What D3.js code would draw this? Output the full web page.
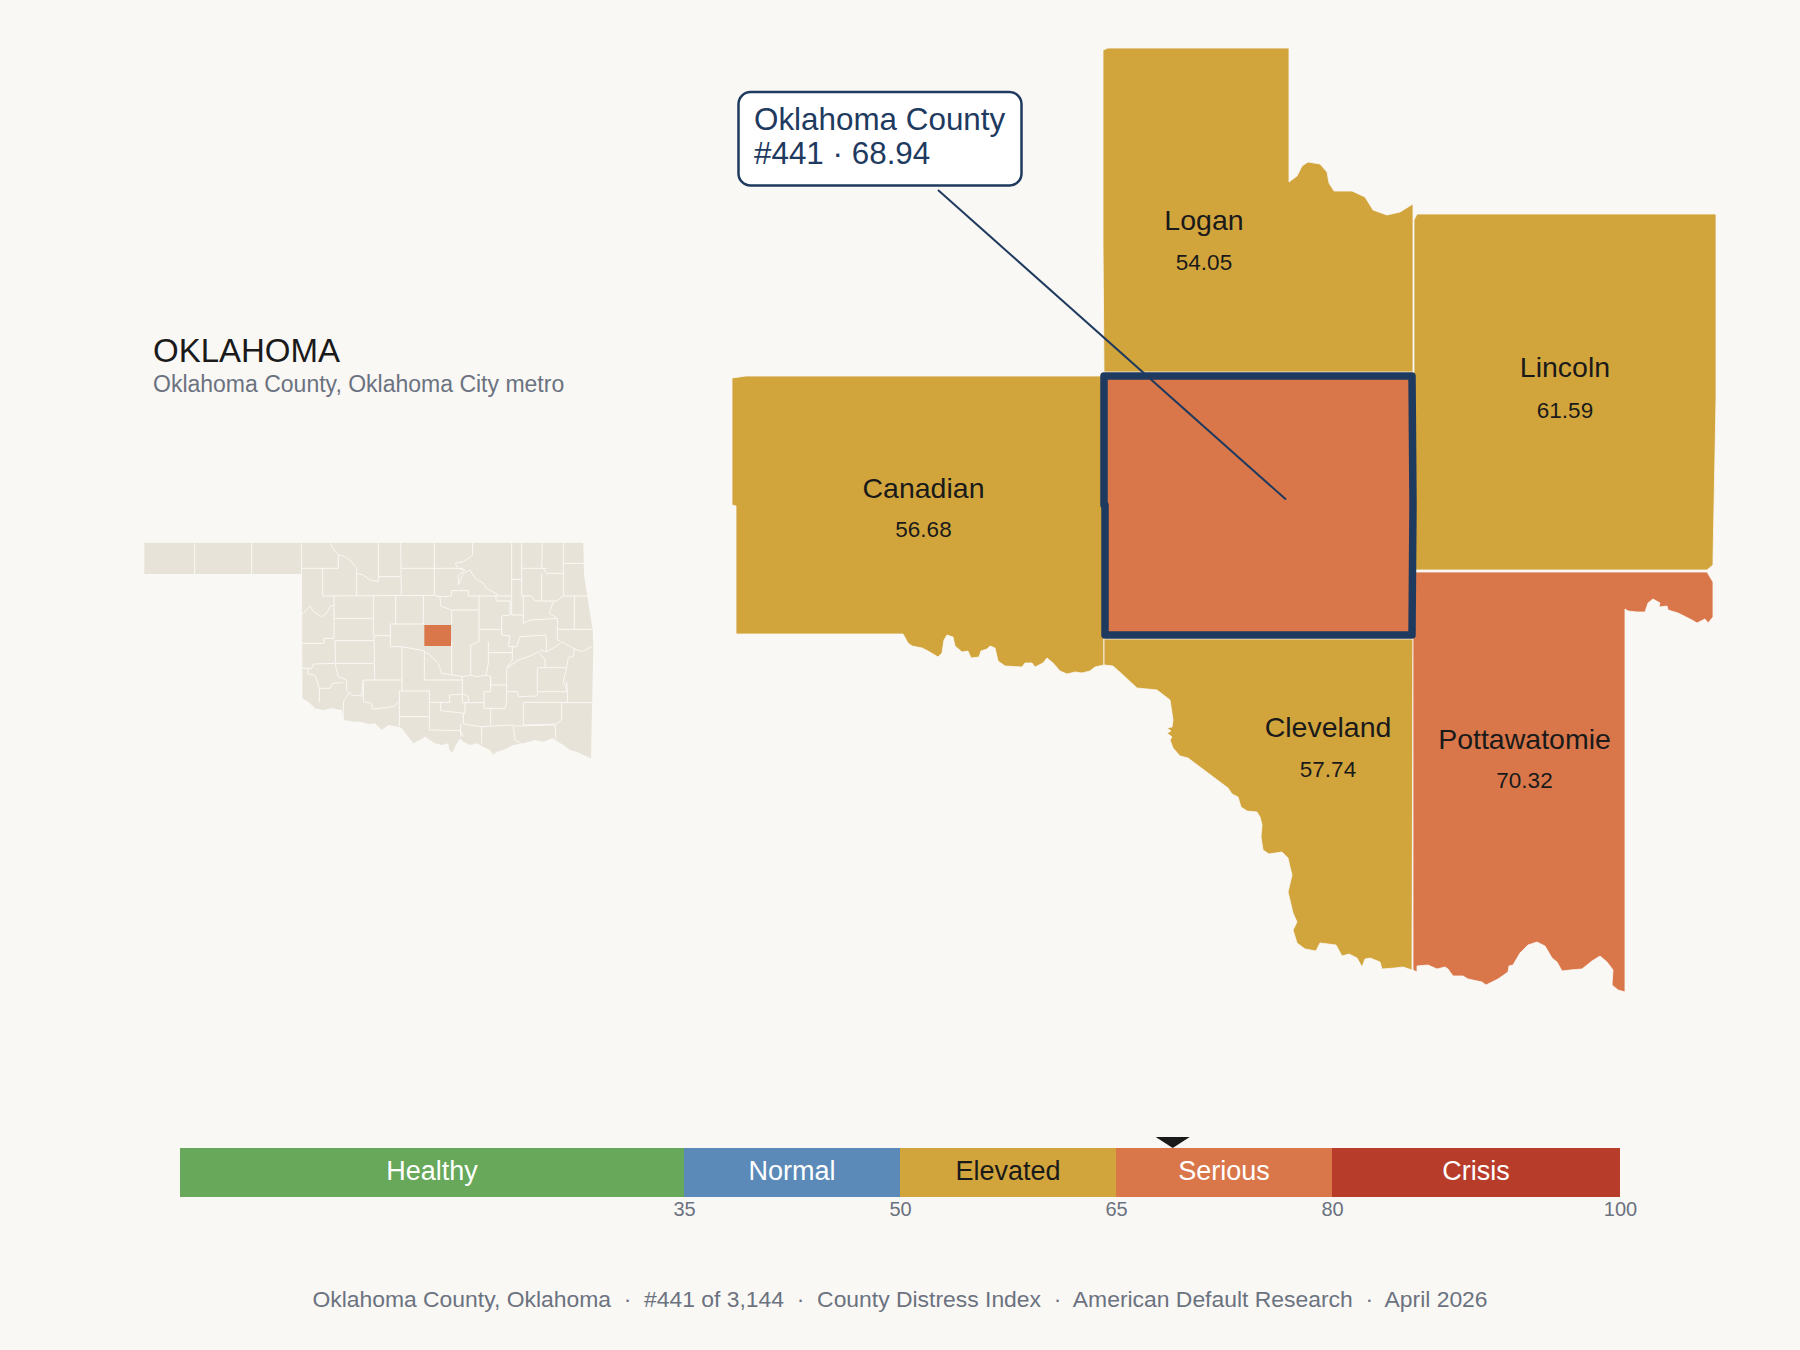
<!DOCTYPE html>
<html>
<head>
<meta charset="utf-8">
<script src="https://cdn.jsdelivr.net/npm/d3@7"></script>
<style>
  html, body { margin: 0; background: #FAF8F5; }
  svg { display: block; font-family: "Liberation Sans", Arial, sans-serif; }
</style>
</head>
<body>
<svg id="chart" width="1800" height="1350"></svg>
<script>
// index data
const bandNames = ['Healthy', 'Normal', 'Elevated', 'Serious', 'Crisis'];
const bandEdges = [0, 35, 50, 65, 80, 100];
const bandColors = ['#67A85A', '#5B8AB8', '#D2A53C', '#D9774A', '#B83C2A'];
const bandTextColors = ['#fff', '#fff', '#1a1a1a', '#fff', '#fff'];
const axisTicks = [35, 50, 65, 80, 100];

const countyNames = ['Logan', 'Lincoln', 'Canadian', 'Cleveland', 'Pottawatomie', 'Oklahoma'];
const countyScores = [54.05, 61.59, 56.68, 57.74, 70.32, 68.94];
const focusRank = 441;
const focusScore = 68.94;

// county outlines, in map grid units
const loganRing = [[1103,50],[1108,48],[1289,48],[1289,182],[1297,176],[1302,166],[1308,162],[1320,164],[1327,172],[1329,183],[1334,191],[1352,191],[1365,197],[1373,210],[1387,215],[1400,212],[1413,204],[1413,372],[1104,372],[1103,243]];
const lincolnRing = [[1414,220],[1417,214],[1716,214],[1716,400],[1713,560],[1713,565],[1707,570],[1415,570],[1414,372]];
const canadianRing = [[732,378],[746,376],[1103,376],[1104,665],[1095,667],[1090,671],[1082,673],[1075,672],[1067,674],[1060,671],[1053,663],[1047,658],[1043,663],[1035,667],[1032,663],[1025,663],[1022,667],[1005,666],[998,661],[995,648],[990,646],[987,649],[981,651],[979,657],[971,658],[968,651],[962,652],[955,646],[953,637],[947,635],[944,640],[942,653],[938,657],[928,651],[922,648],[912,646],[908,643],[903,634],[736,634],[736,506],[732,505]];
const clevelandRing = [[1104,639],[1413,639],[1412,970],[1403,967],[1395,968],[1382,969],[1380,962],[1370,958],[1365,959],[1362,967],[1357,958],[1349,954],[1342,956],[1336,945],[1320,943],[1316,951],[1305,949],[1297,943],[1293,930],[1297,922],[1293,913],[1288,892],[1292,875],[1290,867],[1288,858],[1282,852],[1269,854],[1263,850],[1261,837],[1262,825],[1260,817],[1257,812],[1247,811],[1241,807],[1238,797],[1232,794],[1228,788],[1188,758],[1180,756],[1173,748],[1170,740],[1172,737],[1167,733],[1171,731],[1167,728],[1172,727],[1173,720],[1170,700],[1157,690],[1137,688],[1123,675],[1113,666],[1104,665]];
const pottawatomieRing = [[1413,572],[1707,572],[1713,582],[1713,617],[1708,623],[1705,619],[1697,623],[1692,620],[1678,613],[1668,610],[1667,606],[1659,607],[1660,603],[1653,599],[1648,603],[1645,612],[1637,612],[1628,611],[1625,609],[1625,992],[1618,990],[1612,985],[1613,970],[1607,962],[1600,956],[1592,961],[1582,969],[1570,970],[1562,971],[1557,962],[1552,958],[1545,946],[1537,942],[1528,945],[1520,953],[1513,965],[1509,966],[1508,972],[1498,979],[1486,985],[1482,982],[1468,979],[1463,976],[1453,976],[1448,969],[1445,967],[1437,969],[1428,965],[1417,966],[1417,972],[1413,970]];
const oklahomaRing = [[1104,376],[1412,376],[1413,504],[1412,635],[1105,635],[1105,505],[1104,505]];
const countyRings = [loganRing, lincolnRing, canadianRing, clevelandRing, pottawatomieRing, oklahomaRing];

// state inset, in its own grid units
const stateRing = [[43,68],[1360,68],[1362,165],[1388,330],[1390,380],[1383,715],[1360,705],[1340,695],[1320,690],[1300,675],[1268,655],[1240,665],[1215,660],[1180,670],[1150,675],[1120,690],[1100,695],[1090,705],[1080,690],[1060,680],[1040,670],[1020,675],[1000,665],[990,655],[975,680],[968,698],[958,690],[955,670],[935,675],[915,670],[900,660],[885,650],[870,660],[850,670],[838,655],[815,625],[805,620],[775,615],[755,630],[735,610],[715,612],[690,605],[675,605],[640,600],[635,570],[605,565],[580,570],[555,565],[535,545],[516,535],[515,162],[43,162]];
const stateFocusRing = [[883,315],[963,315],[963,378],[883,378]];
const stateLines = [
  [[194,68],[194,162]], [[365,68],[365,162]], [[514,68],[516,535]],
  [[514,145],[625,145],[625,105]],
  [[600,68],[612,90],[625,105],[640,108],[660,120],[680,145],[680,160],[700,165],[720,180],[745,185],[745,170],[812,170]],
  [[745,68],[745,170]], [[812,68],[814,225]], [[814,145],[1000,145]], [[913,68],[913,225]],
  [[578,145],[578,228]], [[578,228],[913,226]], [[680,160],[680,228]], [[913,226],[930,230]],
  [[1028,68],[1028,105],[1000,125],[975,130],[985,145],[1005,150],[985,165],[985,195],[1000,160],[1020,150],[1035,175],[1060,190],[1070,205],[1105,225]],
  [[1145,68],[1145,285],[1180,285]], [[1145,178],[1175,178]],
  [[1175,68],[1175,228],[1205,228],[1215,243],[1280,243],[1300,228],[1300,130],[1362,130]],
  [[1237,68],[1235,140],[1250,160],[1300,160]], [[1175,145],[1250,145]], [[1235,160],[1235,243]], [[1300,68],[1300,130]],
  [[964,212],[1015,212],[1015,228],[1145,228]], [[964,212],[964,228],[930,230]],
  [[1098,228],[1098,243],[1140,243],[1140,285],[1115,288],[1115,345],[1140,348],[1135,380],[1160,380],[1170,350],[1248,345],[1250,395]],
  [[1180,228],[1180,310],[1200,300],[1282,295],[1282,360],[1290,362]],
  [[1282,328],[1385,328]], [[1333,228],[1333,328]], [[1300,228],[1372,228]], [[1258,280],[1270,245]], [[1258,280],[1282,295]],
  [[612,228],[612,355],[582,355],[582,370],[516,370]],
  [[516,283],[530,270],[540,258],[550,275],[575,290],[590,280],[600,260],[612,255]],
  [[614,295],[730,295]], [[730,228],[730,345]], [[614,362],[732,362]], [[797,228],[797,312]], [[880,228],[880,312]],
  [[930,230],[932,258],[965,270],[965,312]], [[965,270],[1047,270]], [[1047,228],[1047,328]], [[965,364],[965,465]],
  [[1047,328],[1115,328]], [[1047,328],[1047,365],[1022,375],[1022,465]],
  [[1075,365],[1075,430],[1068,465]], [[1075,398],[1147,398]],
  [[1147,380],[1147,420],[1130,445],[1130,495],[1082,495],[1082,470]],
  [[781,312],[880,312]], [[781,312],[781,380],[815,380],[880,392]], [[732,347],[781,347]], [[732,347],[734,480]],
  [[880,392],[900,405],[925,430],[935,460],[965,465],[1000,470],[1022,465],[1040,470],[1068,465],[1082,470]],
  [[816,380],[816,513]], [[883,392],[883,480]],
  [[615,362],[617,430],[730,430]],
  [[516,445],[545,445],[550,432],[615,430],[625,470],[650,480],[650,510],[665,525],[695,528],[700,480],[815,480]],
  [[535,445],[533,462],[555,465],[568,505],[600,505],[608,490],[640,488]],
  [[568,505],[568,548]], [[660,515],[640,545],[640,600]],
  [[700,480],[700,545],[725,550],[727,568],[790,560],[807,545]],
  [[808,513],[900,513]], [[808,513],[808,620]], [[808,590],[898,590]], [[898,513],[898,630]],
  [[883,480],[997,480]], [[997,470],[997,548]],
  [[898,547],[932,547],[932,572],[1005,580]], [[958,525],[1000,522],[1015,530],[1015,548],[1005,548],[1005,580]],
  [[932,547],[960,547],[958,525]], [[997,548],[1062,548]], [[1062,515],[1082,515],[1082,470]],
  [[1062,515],[1062,565],[1125,565],[1130,545],[1130,495]], [[1082,565],[1082,615]], [[1000,580],[1000,612],[1055,620]],
  [[1180,547],[1180,615],[1280,612],[1295,598],[1295,548]],
  [[1130,515],[1162,515],[1165,530],[1220,528],[1225,515],[1312,515],[1312,547],[1180,547]],
  [[1295,548],[1385,548]], [[1310,483],[1312,515]], [[1225,443],[1310,443],[1300,483],[1312,515]], [[1222,443],[1222,515]],
  [[1130,445],[1165,420],[1200,408],[1225,395],[1245,420],[1245,443]],
  [[1230,390],[1250,395],[1285,375],[1295,365],[1330,385],[1355,395],[1385,380]],
  [[1333,385],[1330,410],[1315,412],[1310,443]],
  [[898,630],[992,632],[1000,650]], [[992,612],[992,650]], [[1055,620],[1055,670]],
  [[1055,620],[1150,615],[1155,660],[1175,672]], [[1155,618],[1275,615],[1278,655]]
];

const ink = '#1a1a1a';
const muted = '#6B7280';
const navy = '#1F3A5F';

const svg = d3.select('#chart');

// scales
const mapX = d3.scaleLinear().domain([700, 1750]).range([700, 1750]);
const mapY = d3.scaleLinear().domain([0, 1050]).range([0, 1050]);
const insetX = d3.scaleLinear().domain([0, 1440]).range([130, 610]);
const insetY = d3.scaleLinear().domain([0, 750]).range([520, 770]);
const barX = d3.scaleLinear().domain([0, 100]).range([180, 1620]);
const colorFor = d3.scaleThreshold().domain(bandEdges.slice(1, 5)).range(bandColors);

const mapLine = d3.line().x(d => mapX(d[0])).y(d => mapY(d[1]));
const insetLine = d3.line().x(d => insetX(d[0])).y(d => insetY(d[1]));

// inset
const inset = svg.append('g');
inset.append('path').attr('d', insetLine(stateRing) + 'Z').attr('fill', '#E8E3D8');
inset.selectAll('path.county-line')
  .data(stateLines)
  .enter()
  .append('path')
    .attr('class', 'county-line')
    .attr('d', d => insetLine(d))
    .attr('fill', 'none')
    .attr('stroke', '#FAF8F5')
    .attr('stroke-width', 1);
inset.append('path').attr('d', insetLine(stateFocusRing) + 'Z').attr('fill', colorFor(focusScore));

svg.append('text').attr('x', 153).attr('y', 362)
  .attr('font-size', 33).attr('fill', ink).text('OKLAHOMA');
svg.append('text').attr('x', 153).attr('y', 392)
  .attr('font-size', 23).attr('fill', muted).text('Oklahoma County, Oklahoma City metro');

// metro counties
svg.append('g').selectAll('path')
  .data(countyRings)
  .enter()
  .append('path')
    .attr('d', d => mapLine(d) + 'Z')
    .attr('fill', (d, i) => colorFor(countyScores[i]))
    .attr('stroke', '#FAF8F5')
    .attr('stroke-width', 0.8);

// focus county outline
svg.append('path')
  .attr('d', mapLine(oklahomaRing) + 'Z')
  .attr('fill', 'none')
  .attr('stroke', navy)
  .attr('stroke-width', 7.5)
  .attr('stroke-linejoin', 'round');

// county labels
const labelAt = { Logan: [1204, 230], Lincoln: [1565, 377], Canadian: [923.5, 498], Cleveland: [1328, 737], Pottawatomie: [1524.5, 749] };
const valueAt = { Logan: 270, Lincoln: 418, Canadian: 537, Cleveland: 777, Pottawatomie: 787.5 };
countyNames.forEach((name, i) => {
  if (!labelAt[name]) return;
  const [x, y] = labelAt[name];
  svg.append('text').attr('x', x).attr('y', y).attr('text-anchor', 'middle')
    .attr('font-size', 28.5).attr('fill', ink).text(name);
  svg.append('text').attr('x', x).attr('y', valueAt[name]).attr('text-anchor', 'middle')
    .attr('font-size', 22.5).attr('fill', ink).text(countyScores[i].toFixed(2));
});

// callout
svg.append('line')
  .attr('x1', 938).attr('y1', 190).attr('x2', 1286).attr('y2', 499.5)
  .attr('stroke', navy).attr('stroke-width', 2);
svg.append('rect')
  .attr('x', 738.5).attr('y', 92).attr('width', 283).attr('height', 93.5).attr('rx', 12)
  .attr('fill', '#fff').attr('stroke', navy).attr('stroke-width', 2.5);
svg.append('text').attr('x', 754).attr('y', 130)
  .attr('font-size', 31.4).attr('fill', navy).text('Oklahoma County');
svg.append('text').attr('x', 754).attr('y', 164)
  .attr('font-size', 31.4).attr('fill', navy).text(`#${focusRank} · ${focusScore}`);

// index bar
const bar = svg.append('g');
bar.selectAll('rect')
  .data(bandNames)
  .enter()
  .append('rect')
    .attr('x', (d, i) => barX(bandEdges[i]))
    .attr('y', 1148)
    .attr('width', (d, i) => barX(bandEdges[i + 1]) - barX(bandEdges[i]))
    .attr('height', 49)
    .attr('fill', (d, i) => bandColors[i]);
bar.selectAll('text')
  .data(bandNames)
  .enter()
  .append('text')
    .attr('x', (d, i) => barX((bandEdges[i] + bandEdges[i + 1]) / 2))
    .attr('y', 1180)
    .attr('text-anchor', 'middle')
    .attr('font-size', 27)
    .attr('fill', (d, i) => bandTextColors[i])
    .text(d => d);

const axis = svg.append('g')
  .attr('transform', 'translate(0,1197)')
  .call(d3.axisBottom(barX).tickValues(axisTicks).tickSize(0).tickPadding(4.5));
axis.select('.domain').remove();
axis.selectAll('text')
  .attr('font-family', '"Liberation Sans", Arial, sans-serif')
  .attr('font-size', 20)
  .attr('fill', muted);

// marker on the bar
const markerX = barX(focusScore);
svg.append('path')
  .attr('d', d3.line()([[markerX - 17, 1137], [markerX + 17, 1137], [markerX, 1148]]) + 'Z')
  .attr('fill', ink);

// footer
svg.append('text').attr('x', 900).attr('y', 1307)
  .attr('text-anchor', 'middle')
  .attr('font-size', 22.9)
  .attr('fill', muted)
  .style('white-space', 'pre')
  .text('Oklahoma County, Oklahoma  ·  #441 of 3,144  ·  County Distress Index  ·  American Default Research  ·  April 2026');
</script>
</body>
</html>
